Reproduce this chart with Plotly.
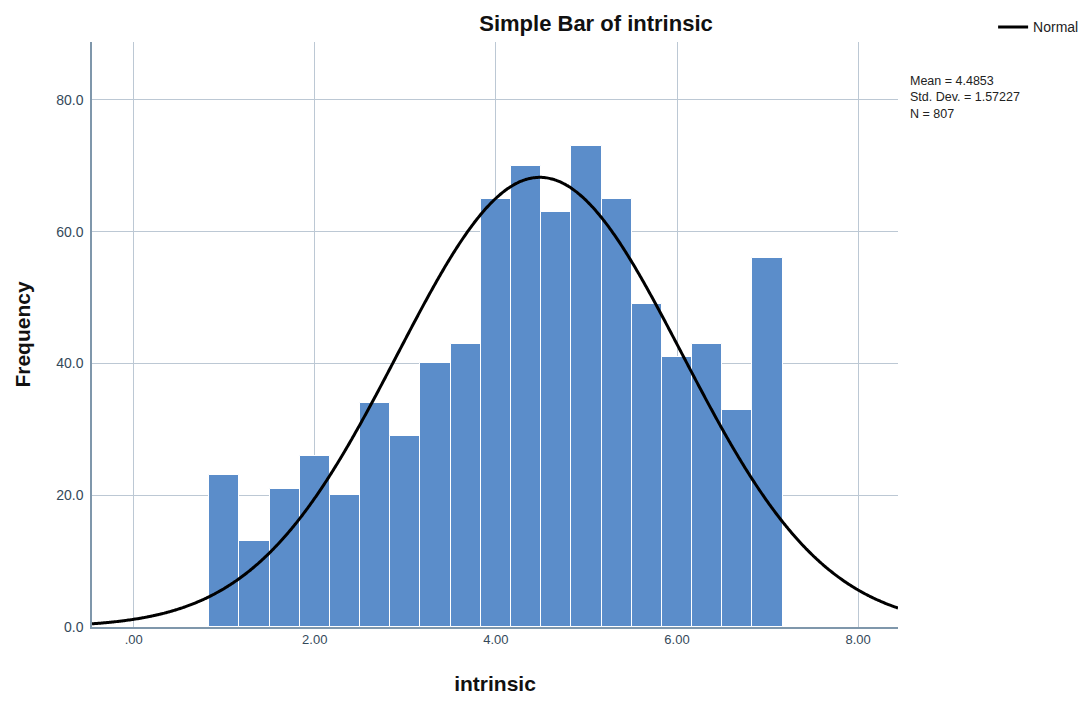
import numpy as np
import plotly.graph_objects as go

# Histogram of intrinsic (bin width 1/3)
bin_start = 0.8333
bin_width = 1 / 3
counts = [23, 13, 21, 26, 20, 34, 29, 40, 43, 65, 70, 63, 73, 65, 49, 41, 43, 33, 56]

mean = 4.4853
std_dev = 1.57227
n_obs = 807

x_tick_vals = [0, 2, 4, 6, 8]
x_tick_text = [".00", "2.00", "4.00", "6.00", "8.00"]
y_tick_vals = [0, 20, 40, 60, 80]
y_tick_text = ["0.0", "20.0", "40.0", "60.0", "80.0"]

stats_lines = [f"Mean = {mean}", f"Std. Dev. = {std_dev}", f"N = {n_obs}"]

x_range = [-0.46, 8.44]
y_range = [0, 88.8]

centers = [bin_start + bin_width * (i + 0.5) for i in range(len(counts))]

# Fitted normal curve scaled to frequency
xs = np.linspace(x_range[0], x_range[1], 600)
ys = n_obs * bin_width / (std_dev * np.sqrt(2 * np.pi)) * np.exp(-0.5 * ((xs - mean) / std_dev) ** 2)

font_family = "Liberation Sans, Arial, sans-serif"
axis_col = "#7f97ab"
grid_col = "#bcc8d4"
tick_col = "#34495a"

fig = go.Figure()
fig.add_trace(go.Bar(
    x=centers, y=counts, width=bin_width,
    marker=dict(color="#5b8dca", line=dict(color="white", width=1)),
    showlegend=False, hoverinfo="x+y",
))
fig.add_trace(go.Scatter(
    x=xs, y=ys, mode="lines", name="Normal",
    line=dict(color="black", width=3, shape="spline"),
))

fig.update_layout(
    width=1091, height=702,
    margin=dict(l=92, r=193, t=42, b=75, autoexpand=False),
    paper_bgcolor="white", plot_bgcolor="white",
    font=dict(family=font_family, color="#333333"),
    title=dict(
        text="<b>Simple Bar of intrinsic</b>",
        x=596 / 1091, xanchor="center", y=1 - 23 / 702, yanchor="middle",
        font=dict(size=22, color="#111111"),
    ),
    showlegend=True,
    legend=dict(
        x=1.118, y=1.025, xanchor="left", yanchor="middle",
        font=dict(size=14, color="#222222"),
        bgcolor="rgba(0,0,0,0)", itemwidth=30,
    ),
    bargap=0,
)

fig.update_xaxes(
    range=x_range, tickvals=x_tick_vals, ticktext=x_tick_text,
    showgrid=True, gridcolor=grid_col, gridwidth=1,
    showline=True, linecolor=axis_col, linewidth=1.5,
    zeroline=False, ticks="",
    tickfont=dict(size=13, color=tick_col),
    title=dict(text="<b>intrinsic</b>", font=dict(size=21, color="#111111"), standoff=30),
)
fig.update_yaxes(
    range=y_range, tickvals=y_tick_vals, ticktext=y_tick_text,
    showgrid=True, gridcolor=grid_col, gridwidth=1,
    showline=True, linecolor=axis_col, linewidth=1.5,
    zeroline=False, ticks="", ticklabelstandoff=4,
    tickfont=dict(size=14, color=tick_col),
    title=dict(text="<b>Frequency</b>", font=dict(size=21, color="#111111"), standoff=20),
)

# Summary statistics block
fig.add_annotation(
    xref="paper", yref="paper",
    x=(908 - 92) / 806, y=(627 - 72) / 585,
    xanchor="left", yanchor="top",
    text="<br>".join(stats_lines), showarrow=False, align="left",
    font=dict(size=12.5, color="#222222"),
)

fig.write_html("out.html")
